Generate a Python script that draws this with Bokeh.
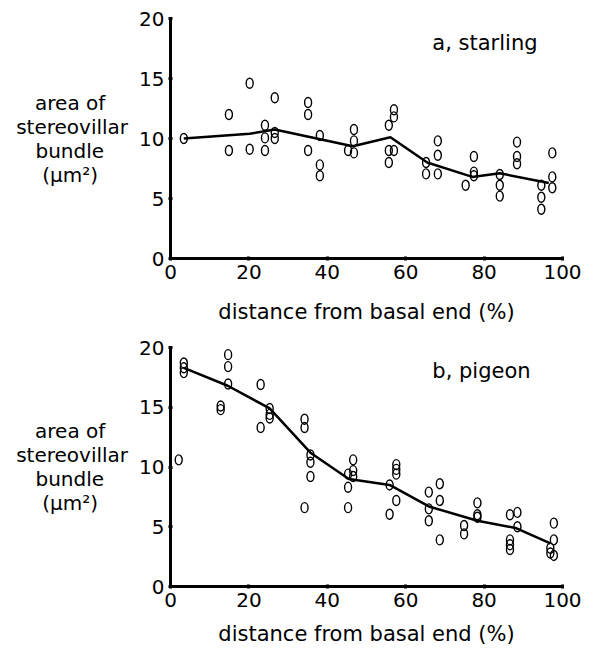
from bokeh.plotting import figure
from bokeh.models import Range1d, FixedTicker, Label
from bokeh.layouts import column
from bokeh.embed import file_html
from bokeh.resources import INLINE

# ---- data: starling (a) ----
starling_x = [3.4, 14.9, 14.9, 20.2, 20.2, 24.1, 24.1, 24.1, 26.6, 26.6, 26.6,
              35.1, 35.1, 35.1, 38.1, 38.1, 38.1, 45.3, 46.8, 46.8, 46.8,
              55.7, 57.0, 57.0, 55.7, 57.0, 55.7, 65.2, 65.2, 68.2, 68.2, 68.2,
              75.3, 77.4, 77.4, 77.4, 84.0, 84.0, 84.0, 88.4, 88.4, 88.4,
              94.6, 94.6, 94.6, 97.4, 97.4, 97.4]
starling_y = [10.0, 12.0, 9.0, 14.6, 9.1, 11.1, 10.05, 9.0, 13.4, 10.5, 10.0,
              13.0, 12.0, 9.0, 10.25, 7.8, 6.9, 9.0, 10.75, 9.8, 8.8,
              11.1, 12.4, 11.8, 9.0, 9.0, 8.0, 8.0, 7.05, 9.8, 8.6, 7.05,
              6.1, 8.5, 7.2, 6.9, 7.0, 6.1, 5.2, 9.7, 8.5, 7.9,
              6.1, 5.1, 4.1, 8.8, 6.8, 5.9]
starling_line_x = [3.4, 20.2, 26.6, 46.5, 56.1, 65.5, 77.0, 84.0, 96.5]
starling_line_y = [10.0, 10.4, 10.75, 9.35, 10.1, 8.0, 6.8, 7.1, 6.3]

# ---- data: pigeon (b) ----
pigeon_x = [2.1, 3.4, 3.4, 3.4, 14.7, 14.7, 14.7, 12.8, 12.8, 23.0, 23.0,
            25.3, 25.3, 25.3, 34.2, 34.2, 34.2, 35.7, 35.7, 35.7,
            45.3, 45.3, 45.3, 46.6, 46.6, 46.6, 57.6, 57.6, 57.6, 55.9, 57.6, 55.9,
            68.7, 65.9, 68.7, 65.9, 65.9, 68.7, 78.3, 78.3, 78.3, 74.9, 74.9,
            86.6, 88.5, 88.5, 86.6, 86.6, 86.6, 97.8, 97.8, 96.9, 96.9, 97.8]
pigeon_y = [10.6, 18.7, 18.3, 17.9, 19.4, 18.4, 16.95, 15.1, 14.8, 16.9, 13.3,
            14.9, 14.4, 14.1, 14.0, 13.3, 6.6, 11.0, 10.4, 9.2,
            9.4, 8.3, 6.6, 10.6, 9.7, 9.2, 10.2, 9.8, 9.4, 8.5, 7.2, 6.05,
            8.6, 7.9, 7.2, 6.5, 5.5, 3.9, 7.0, 6.0, 5.8, 5.1, 4.4,
            6.0, 6.2, 5.0, 3.9, 3.5, 3.1, 5.3, 3.9, 3.2, 2.8, 2.6]
pigeon_line_x = [3.4, 14.6, 25.3, 35.7, 45.5, 55.9, 65.9, 78.3, 88.0, 96.9]
pigeon_line_y = [18.3, 16.8, 14.9, 11.2, 9.0, 8.5, 6.7, 5.5, 4.9, 3.6]

x_ticks = [0, 20, 40, 60, 80, 100]
y_ticks = [0, 5, 10, 15, 20]
x_title = "distance from basal end (%)"
# lines of the y title; trailing wide spaces centre the shorter lines
y_title = "\n".join([
    "area of\u2002\u2007",
    "stereovillar",
    "bundle\u2002\u2002\u2009",
    "(μm²)\u2002\u2002\u2002",
])
panel_titles = ["a, starling", "b, pigeon"]

FONT = "DejaVu Sans"


def make_panel(px, py, lx, ly, title, height, top, bottom, lab_standoff, tick_standoff):
    p = figure(width=595, height=height, output_backend="svg", toolbar_location=None,
               x_range=Range1d(0, 100), y_range=Range1d(0, 20),
               min_border_left=170, min_border_right=33,
               min_border_top=top, min_border_bottom=bottom)
    p.outline_line_color = None
    p.grid.visible = False
    p.background_fill_color = "white"
    p.border_fill_color = "white"
    for ax in (p.xaxis[0], p.yaxis[0]):
        ax.axis_line_width = 3
        ax.axis_line_color = "black"
        ax.major_tick_line_width = 3
        ax.major_tick_line_color = "black"
        ax.major_tick_in = 2
        ax.major_tick_out = 2
        ax.minor_tick_line_color = None
        ax.major_label_text_font = FONT
        ax.major_label_text_font_size = "20px"
        ax.major_label_text_color = "black"
        ax.axis_label_text_font = FONT
        ax.axis_label_text_font_style = "normal"
        ax.axis_label_text_color = "black"
    p.xaxis.axis_label_text_font_size = "21px"
    p.yaxis.axis_label_text_font_size = "20px"
    p.xaxis.ticker = FixedTicker(ticks=x_ticks)
    p.yaxis.ticker = FixedTicker(ticks=y_ticks)
    p.xaxis.axis_label = x_title
    p.xaxis.axis_label_standoff = lab_standoff
    p.xaxis.major_label_standoff = tick_standoff
    p.yaxis.major_label_standoff = 4
    p.yaxis.axis_label = y_title
    p.yaxis.axis_label_orientation = "horizontal"
    p.yaxis.axis_label_standoff = 8
    p.yaxis.axis_label_text_line_height = 1.0

    p.line(lx, ly, line_color="black", line_width=2.5)
    p.ellipse(px, py, width=7, height=10, width_units="screen", height_units="screen",
              fill_color=None, line_color="black", line_width=1.4)

    p.add_layout(Label(x=66.8, y=18.0, text=title, text_font=FONT, text_font_size="21px",
                       text_align="left", text_baseline="middle", text_color="black"))
    return p


p1 = make_panel(starling_x, starling_y, starling_line_x, starling_line_y, panel_titles[0],
                328, 18, 70, 18, 4)
p2 = make_panel(pigeon_x, pigeon_y, pigeon_line_x, pigeon_line_y, panel_titles[1],
                320, 19, 61, 12, 4)

layout = column(p1, p2, spacing=0)
open("out.html", "w").write(file_html(layout, INLINE))
